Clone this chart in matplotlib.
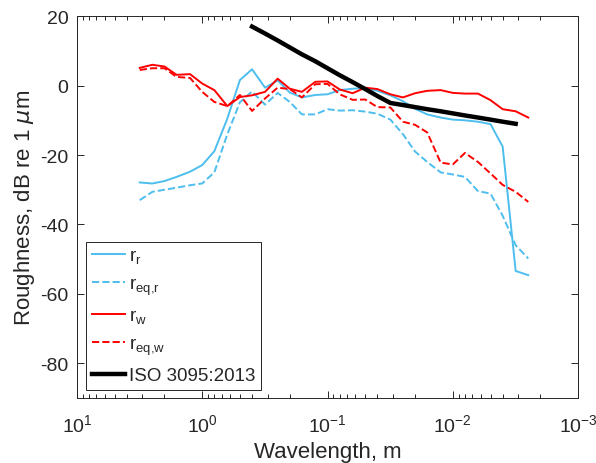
import matplotlib
matplotlib.use('Agg')
import matplotlib.pyplot as plt
from matplotlib.ticker import LogLocator, NullFormatter

plt.rcParams['font.family'] = ['Liberation Sans', 'DejaVu Sans']
plt.rcParams['mathtext.default'] = 'regular'
plt.rcParams['axes.unicode_minus'] = False

# third-octave band wavelengths, m
wavelength = [3.15, 2.5, 2.0, 1.6, 1.25, 1.0, 0.8, 0.63, 0.5, 0.4, 0.315, 0.25,
              0.2, 0.16, 0.125, 0.1, 0.08, 0.063, 0.05, 0.04, 0.0315, 0.025,
              0.02, 0.016, 0.0125, 0.01, 0.008, 0.0063, 0.005, 0.004, 0.00315, 0.0025]

# roughness levels, dB re 1 um
r_r = [-27.9, -28.2, -27.5, -26.3, -24.8, -22.9, -18.9, -9.5, 1.6, 4.7, -0.6, 1.5,
       -2.0, -3.4, -2.7, -2.5, -1.3, -0.9, -0.7, -1.5, -2.8, -4.5,
       -6.7, -8.3, -9.2, -9.8, -10.0, -10.4, -11.1, -17.6, -53.4, -54.6]
r_eq_r = [-33.0, -30.6, -30.0, -29.4, -28.7, -28.2, -25.0, -14.0, -4.8, -1.7, -5.5, -2.1,
          -4.7, -8.3, -8.3, -6.8, -7.2, -7.1, -7.5, -8.1, -9.8, -14.0,
          -19.0, -22.0, -25.0, -25.6, -26.3, -30.4, -31.1, -37.5, -46.0, -49.8]
r_w = [5.1, 6.0, 5.5, 3.1, 3.3, 0.6, -1.3, -5.9, -3.3, -2.8, -1.8, 2.0,
       -0.9, -1.8, 1.1, 1.2, -1.1, -2.2, -0.6, -1.0, -2.5, -3.4,
       -2.2, -1.5, -1.3, -2.1, -2.3, -2.3, -4.2, -6.8, -7.4, -9.2]
r_eq_w = [4.5, 5.0, 5.0, 2.5, 2.2, -1.8, -4.7, -5.9, -2.7, -7.3, -3.7, -0.6,
          -1.0, -3.4, 0.4, 0.5, -2.5, -4.1, -4.0, -6.2, -6.3, -10.4,
          -11.3, -13.5, -22.2, -22.7, -19.4, -22.0, -25.3, -28.6, -30.6, -33.5]

# ISO 3095:2013 limit spectrum
iso_wavelength = [0.4, 0.315, 0.25, 0.2, 0.16, 0.125, 0.1, 0.08, 0.063, 0.05, 0.04,
                  0.0315, 0.025, 0.02, 0.016, 0.0125, 0.01, 0.008, 0.0063, 0.005,
                  0.004, 0.00315]
iso_limit = [17.0, 15.0, 13.0, 11.0, 9.0, 7.0, 5.0, 3.0, 1.0, -1.0, -3.0,
             -5.0, -5.6, -6.2, -6.8, -7.4, -8.0, -8.6, -9.2, -9.8, -10.4, -11.0]

blue = '#4DBEEE'
dark = '#262626'

fig = plt.figure(figsize=(5.96, 4.64), dpi=100)
ax = fig.add_axes([0.129, 0.140, 0.841, 0.823])

ax.semilogx(wavelength, r_r, '-', color=blue, lw=1.4, label='$r_r$')
ax.semilogx(wavelength, r_eq_r, '--', color=blue, lw=1.4, label='$r_{eq{,}r}$')
ax.semilogx(wavelength, r_w, '-', color='red', lw=1.4, label='$r_w$')
ax.semilogx(wavelength, r_eq_w, '--', color='red', lw=1.4, label='$r_{eq{,}w}$')
ax.semilogx(iso_wavelength, iso_limit, '-', color='black', lw=3.2, label='ISO 3095:2013')

ax.set_xlim(10, 1e-3)
ax.set_ylim(-90, 20)
ax.set_yticks([-80, -60, -40, -20, 0, 20])
ax.xaxis.set_major_locator(LogLocator(base=10, numticks=10))
ax.xaxis.set_minor_locator(LogLocator(base=10, subs=range(2, 10), numticks=20))
ax.xaxis.set_minor_formatter(NullFormatter())

ax.tick_params(which='both', direction='in', top=True, right=True,
               colors=dark, labelsize=14, width=0.7)
ax.tick_params(which='major', length=5, pad=6)
ax.tick_params(axis='x', which='major', pad=11)
ax.tick_params(which='minor', length=3)
for s in ax.spines.values():
    s.set_color(dark)
    s.set_linewidth(0.7)

ax.set_xlabel('Wavelength, m', fontsize=16, color=dark, labelpad=4)
ax.set_ylabel('Roughness, dB re 1 $\\mathit{\\mu}$m', fontsize=16, color=dark, labelpad=2)

leg = ax.legend(loc='lower left', bbox_to_anchor=(0.018, 0.021), borderaxespad=0,
                fontsize=13.5, handlelength=1.8, handletextpad=0.2,
                labelspacing=0.55, borderpad=0.3, fancybox=False, framealpha=1)
leg.get_frame().set_edgecolor(dark)
leg.get_frame().set_linewidth(0.7)
for t in leg.get_texts():
    t.set_color(dark)

fig.savefig('out.png', dpi=100)
